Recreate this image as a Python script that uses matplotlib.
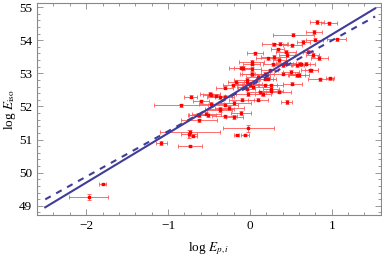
import matplotlib
matplotlib.use("Agg")
import matplotlib.pyplot as plt
from matplotlib.ticker import MultipleLocator
import numpy as np

# log Ep,i , log Eiso and their errors
log_ep = [-1.97, -1.80, -1.08, -0.73, -0.74, -0.70, -0.73, -0.02, -0.16, -0.06,
          -0.62, -0.62, -0.51, -0.31, -0.19, -0.11, -0.84, -0.72, -0.47, -0.37,
          -0.31, -0.31, -0.21, -0.47, -0.19, -0.63, -0.53, -0.37, -0.25, -0.02,
          -0.04, 0.00, 0.26, -0.11, 0.02, 0.03, 0.18, 0.24, 0.28, 0.40,
          0.57, 0.61, 0.75, 0.45, -0.04, 0.04, 0.12, 0.26, 0.18, -0.41,
          -0.49, -0.37, 0.82, 0.97, 0.53, 0.78, 0.79, 1.06, 0.65, 0.37,
          0.52, 0.30, 0.34, 0.44, 0.71, 0.06, 0.22, 0.85, 0.36, 0.02,
          0.69, 0.58, 0.44, 0.02, -0.09, 0.29, 0.77, 0.63, 0.86, 0.98,
          0.52, 0.40, 0.50, 0.73, 0.00, 0.18, 0.22, 0.10, 0.26, 0.16,
          -0.04, -0.17, 0.02, -0.60, -0.30, -0.10, 0.10, 0.35, 0.60, 0.45]
log_eiso = [49.27, 49.66, 50.90, 50.80, 51.17, 51.12, 51.22, 51.34, 51.14, 51.14,
            51.58, 51.73, 51.73, 51.70, 51.68, 51.80, 52.03, 52.30, 52.36, 52.28,
            52.30, 52.57, 52.64, 52.08, 52.10, 51.75, 51.78, 51.88, 51.95, 52.38,
            52.54, 52.69, 52.54, 53.17, 53.29, 52.97, 52.99, 53.09, 53.27, 53.24,
            52.94, 53.29, 53.09, 52.13, 52.74, 52.58, 52.43, 52.64, 52.84, 52.33,
            52.38, 51.93, 54.55, 54.51, 54.17, 54.25, 54.02, 54.03, 53.95, 53.90,
            53.85, 53.87, 53.72, 53.65, 53.65, 53.60, 53.45, 53.46, 53.39, 53.34,
            53.29, 53.24, 53.32, 53.13, 53.16, 53.49, 53.55, 53.27, 52.82, 52.85,
            52.69, 52.99, 53.04, 53.09, 52.64, 52.64, 52.84, 52.89, 52.48, 52.38,
            52.80, 52.74, 52.99, 52.15, 52.05, 52.20, 52.20, 52.45, 52.95, 53.55]
err_ep = [0.24, 0.04, 0.07, 0.15, 0.10, 0.06, 0.37, 0.31, 0.03, 0.05,
          0.22, 0.12, 0.10, 0.15, 0.10, 0.12, 0.33, 0.08, 0.10, 0.15,
          0.12, 0.10, 0.12, 0.15, 0.20, 0.12, 0.18, 0.15, 0.18, 0.15,
          0.10, 0.15, 0.10, 0.15, 0.10, 0.15, 0.12, 0.10, 0.12, 0.12,
          0.10, 0.08, 0.08, 0.07, 0.12, 0.20, 0.15, 0.15, 0.10, 0.10,
          0.12, 0.18, 0.08, 0.10, 0.25, 0.10, 0.10, 0.12, 0.08, 0.10,
          0.12, 0.15, 0.08, 0.12, 0.06, 0.10, 0.15, 0.10, 0.08, 0.15,
          0.10, 0.08, 0.12, 0.12, 0.10, 0.15, 0.08, 0.10, 0.15, 0.05,
          0.12, 0.15, 0.10, 0.10, 0.10, 0.15, 0.10, 0.15, 0.15, 0.10,
          0.15, 0.10, 0.12, 0.10, 0.15, 0.15, 0.12, 0.15, 0.12, 0.10]
err_eiso = [0.10, 0.03, 0.06, 0.03, 0.12, 0.05, 0.08, 0.10, 0.03, 0.04] + [0.05] * 90

# fitted relations: log Eiso = a + b log Ep,i
fit_solid = (52.68, 1.49)
fit_dash = (52.62, 1.37)
x_line = [-2.5, 1.53]

plt.rcParams['font.family'] = ['Liberation Serif', 'DejaVu Serif']
plt.rcParams['mathtext.fontset'] = 'stix'
plt.rcParams['font.size'] = 9.5

fig = plt.figure(figsize=(3.82, 2.57), dpi=100)
ax = fig.add_axes([0.097, 0.163, 0.9, 0.825])

ax.errorbar(log_ep, log_eiso, xerr=err_ep, yerr=err_eiso, fmt='s', ms=2.0,
            color='red', ecolor='#ff5555', elinewidth=0.6, capsize=1.2,
            capthick=0.6, zorder=2)

xl = np.array(x_line)
ax.plot(xl, fit_solid[0] + fit_solid[1] * xl, color='#3f3d99', lw=1.5, zorder=3)
ax.plot(xl, fit_dash[0] + fit_dash[1] * xl, color='#3f3d99', lw=1.5,
        dashes=(3, 3), zorder=3)

ax.set_xlim(-2.6, 1.6)
ax.set_ylim(48.72, 55.12)
ax.xaxis.set_major_locator(MultipleLocator(1))
ax.xaxis.set_minor_locator(MultipleLocator(0.2))
ax.yaxis.set_major_locator(MultipleLocator(1))
ax.yaxis.set_minor_locator(MultipleLocator(0.2))
ax.tick_params(which='both', direction='in', top=True, right=True,
               color='#888888', width=0.6)
ax.tick_params(which='major', length=4)
ax.tick_params(which='minor', length=2)
for s in ax.spines.values():
    s.set_color('#888888')
    s.set_linewidth(0.8)

ax.set_xlabel(r'log $E_{p,i}$', fontsize=9.5, labelpad=6)
ax.set_ylabel(r'log $E_{\rm iso}$', fontsize=9.5, labelpad=1)

fig.savefig('out.png', dpi=100)
